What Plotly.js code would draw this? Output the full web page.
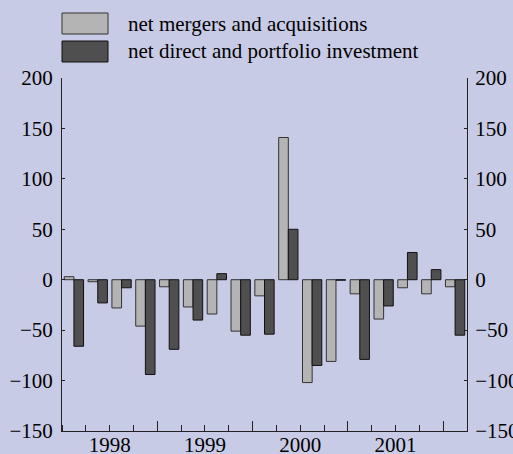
<!DOCTYPE html>
<html><head><meta charset="utf-8">
<script src="https://cdn.plot.ly/plotly-3.0.1.min.js"></script>
<style>html,body{margin:0;padding:0;background:#C8CBE5;}#chart{width:513px;height:454px;}</style>
</head><body><div id="chart"></div>
<script>
var quarters = ["1998Q1","1998Q2","1998Q3","1998Q4","1999Q1","1999Q2","1999Q3","1999Q4","2000Q1","2000Q2","2000Q3","2000Q4","2001Q1","2001Q2","2001Q3","2001Q4","2002Q1"];
var mergers = [3, -2, -28, -46, -7, -27, -34, -51, -16, 141, -102, -81, -14, -39, -8, -14, -7];
var directPortfolio = [-66, -23, -8, -94, -69, -40, 6, -55, -54, 50, -85, -0.5, -79, -26, 27, 10, -55];
var yearLabels = ["1998","1999","2000","2001"];
var seriesNames = ["net mergers and acquisitions","net direct and portfolio investment"];
var yTicks = [-150,-100,-50,0,50,100,150,200];

var idx = quarters.map(function(q,i){return i;});
var font = {family:"Times New Roman", size:21, color:"#000"};
var bg = "#C8CBE5";

var traces = [
  {type:"bar", x:idx, y:mergers, name:seriesNames[0], marker:{color:"#B4B4B4", line:{color:"#333", width:1}}, showlegend:false},
  {type:"bar", x:idx, y:directPortfolio, name:seriesNames[1], marker:{color:"#4F4F4F", line:{color:"#111", width:1}}, showlegend:false},
  // invisible helper trace so the secondary axes (right y axis, major x ticks) are drawn
  {type:"scatter", mode:"markers", x:[idx[0]], y:[yTicks[3]], xaxis:"x2", yaxis:"y2", marker:{opacity:0}, hoverinfo:"skip", showlegend:false}
];

var yearPos = yearLabels.map(function(y,i){return i*4+1.5;});
var majorPos = yearLabels.map(function(y,i){return i*4+3.5;});

var L = 62, R = 467, T = 78, B = 431;
function px(x){return (x-L)/(R-L);}
function py(y){return (B-y)/(B-T);}

var layout = {
  width:513, height:454,
  margin:{l:L, r:513-R, t:T, b:454-B, pad:0},
  paper_bgcolor:bg, plot_bgcolor:bg,
  font:font,
  barmode:"group", bargap:0.19, bargroupgap:0,
  xaxis:{range:[-0.5,16.5], tickmode:"array", tickvals:yearPos, ticktext:yearLabels, ticks:"", showgrid:false, zeroline:false,
         showline:true, linecolor:"#222", linewidth:1, tickfont:font, ticklabelstandoff:-5,
         minor:{tickmode:"linear", tick0:0.5, dtick:1, ticks:"inside", ticklen:6, tickcolor:"#222", tickwidth:1, showgrid:false}},
  xaxis2:{overlaying:"x", range:[-0.5,16.5], tickmode:"array", tickvals:majorPos, ticktext:["","","",""], ticks:"inside", ticklen:10, tickcolor:"#222", tickwidth:1,
          showgrid:false, zeroline:false, showline:false, side:"bottom", anchor:"y2"},
  yaxis:{range:[-150,200], tickmode:"array", tickvals:yTicks, ticks:"inside", ticklen:3, tickcolor:"#222",
         showgrid:false, zeroline:false, showline:true, linecolor:"#222", linewidth:1, tickfont:font, ticklabelstandoff:4},
  yaxis2:{overlaying:"y", side:"right", anchor:"x2", range:[-150,200], tickmode:"array", tickvals:yTicks, ticks:"inside", ticklen:3, tickcolor:"#222",
         showgrid:false, zeroline:false, showline:true, linecolor:"#222", linewidth:1, tickfont:font, ticklabelstandoff:3},
  shapes:[
    {type:"rect", xref:"paper", yref:"paper", x0:px(62), x1:px(108), y0:py(34), y1:py(13), fillcolor:"#B4B4B4", line:{color:"#333", width:1}},
    {type:"rect", xref:"paper", yref:"paper", x0:px(62), x1:px(108), y0:py(62), y1:py(41), fillcolor:"#4F4F4F", line:{color:"#111", width:1}}
  ],
  annotations:[
    {xref:"paper", yref:"paper", x:px(126), y:py(23.5), xanchor:"left", yanchor:"middle", text:seriesNames[0], showarrow:false, font:font},
    {xref:"paper", yref:"paper", x:px(126), y:py(51.5), xanchor:"left", yanchor:"middle", text:seriesNames[1], showarrow:false, font:font}
  ],
  showlegend:false
};
Plotly.newPlot("chart", traces, layout, {displayModeBar:false, staticPlot:true});
</script></body></html>
